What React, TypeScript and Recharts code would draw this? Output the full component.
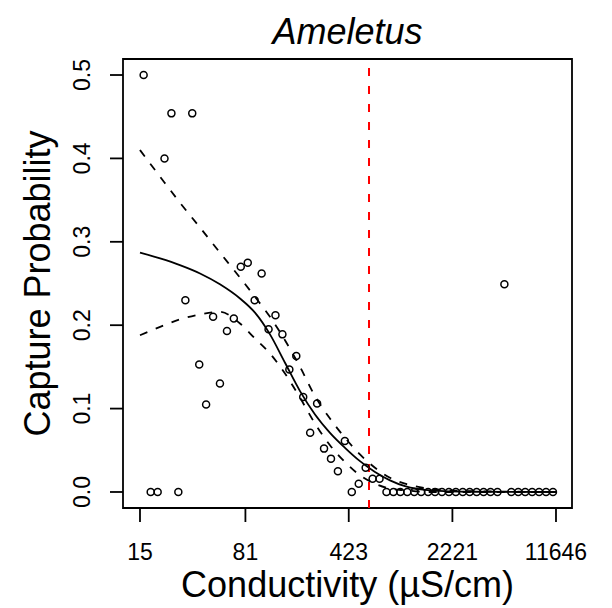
import {
  ComposedChart, Line, Scatter, XAxis, YAxis, ReferenceArea, ReferenceLine,
} from "recharts";

// observed capture probability per conductivity bin (µS/cm)
const conductivity = [
  15.9, 17.8, 19.9, 22.2, 24.8, 27.7, 31.0, 34.6, 38.7, 43.2,
  48.3, 53.9, 60.3, 67.3, 75.2, 84.1, 93.9, 105.0, 117.3, 131.0,
  146.4, 163.6, 182.8, 204.2, 228.2, 255.0, 284.9, 318.4, 355.7, 397.5,
  444.1, 496.3, 554.5, 619.6, 692.3, 773.6, 864.3, 965.7, 1079, 1206,
  1347, 1505, 1682, 1879, 2100, 2346, 2621, 2929, 3273, 3657,
  4086, 4565, 5101, 5700, 6369, 7116, 7951, 8884, 9929, 11093,
];
const captureProb = [
  0.5, 0, 0, 0.4, 0.454, 0, 0.23, 0.454, 0.153, 0.105,
  0.21, 0.13, 0.193, 0.208, 0.27, 0.275, 0.23, 0.262, 0.195, 0.212,
  0.189, 0.147, 0.163, 0.114, 0.071, 0.106, 0.052, 0.04, 0.025, 0.061,
  0, 0.01, 0.029, 0.016, 0.016, 0, 0, 0, 0, 0,
  0, 0, 0, 0, 0, 0, 0, 0, 0, 0,
  0, 0, 0.249, 0, 0, 0, 0, 0, 0, 0,
];

// fitted curve and its confidence band
const curveConductivity = [15, 20.7, 28.4, 39.2, 53.9, 74.3, 94.4, 120, 152.6, 194, 246.6, 313.4, 398.4, 506.3, 643.8, 818.3, 1040, 1551, 2943, 11646];
const fitProb = [0.287, 0.28, 0.272, 0.262, 0.249, 0.232, 0.215, 0.189, 0.155, 0.121, 0.093, 0.071, 0.053, 0.037, 0.024, 0.014, 0.007, 0.002, 0.0003, 0];
const lowerProb = [0.188, 0.198, 0.207, 0.213, 0.216, 0.202, 0.184, 0.166, 0.142, 0.113, 0.082, 0.056, 0.036, 0.02, 0.01, 0.004, 0.002, 0, 0, 0];
const upperProb = [0.41, 0.378, 0.347, 0.317, 0.287, 0.257, 0.234, 0.21, 0.182, 0.15, 0.115, 0.088, 0.065, 0.045, 0.029, 0.017, 0.01, 0.004, 0.001, 0];

const threshold = 585;
const xTicks = [15, 81, 423, 2221, 11646];
const yTicks = [0, 0.1, 0.2, 0.3, 0.4, 0.5];
const xDomain = [11.43, 15045];
const yDomain = [-0.0192, 0.5192];

const FONT = '"Liberation Sans", Arial, Helvetica, sans-serif';

const points = conductivity.map((x, i) => ({ x, y: captureProb[i] }));
const fitData = curveConductivity.map((x, i) => ({ x, y: fitProb[i] }));
const lowerData = curveConductivity.map((x, i) => ({ x, y: lowerProb[i] }));
const upperData = curveConductivity.map((x, i) => ({ x, y: upperProb[i] }));

function XTick(props: any) {
  const { x, y, payload } = props;
  return (
    <text x={x} y={y + 36} textAnchor="middle" fontSize={23} fontFamily={FONT} fill="#000">
      {payload.value}
    </text>
  );
}

function YTick(props: any) {
  const { x, y, payload } = props;
  const bx = x - 18;
  return (
    <text x={bx} y={y} transform={`rotate(-90 ${bx} ${y})`} textAnchor="middle" fontSize={23} fontFamily={FONT} fill="#000">
      {Number(payload.value).toFixed(1)}
    </text>
  );
}

const OpenCircle = (props: any) => (
  <circle cx={props.cx} cy={props.cy} r={3.5} fill="none" stroke="#000" strokeWidth={1.5} />
);

export default function App() {
  return (
    <div style={{ position: "relative", width: 612, height: 608, background: "#fff" }}>
      <style>{"body{margin:0}"}</style>
      <ComposedChart width={612} height={608} margin={{ top: 59, right: 40, bottom: 0, left: 0 }}>
        <XAxis
          dataKey="x"
          type="number"
          scale="log"
          domain={xDomain}
          allowDataOverflow
          ticks={xTicks}
          interval={0}
          height={100}
          tickSize={14}
          axisLine={false}
          tickLine={{ stroke: "#000", strokeWidth: 1.8 }}
          tick={<XTick />}
          label={{
            content: (p: any) => {
              const vb = p.viewBox;
              return (
                <text x={vb.x + vb.width / 2} y={vb.y + 89} textAnchor="middle" fontSize={36} fontFamily={FONT} fill="#000">
                  Conductivity (µS/cm)
                </text>
              );
            },
          }}
        />
        <YAxis
          dataKey="y"
          type="number"
          domain={yDomain}
          allowDataOverflow
          ticks={yTicks}
          interval={0}
          width={123}
          tickSize={13}
          axisLine={false}
          tickLine={{ stroke: "#000", strokeWidth: 1.8 }}
          tick={<YTick />}
          label={{
            content: (p: any) => {
              const vb = p.viewBox;
              const cy = vb.y + vb.height / 2;
              return (
                <text x={50} y={cy} transform={`rotate(-90 50 ${cy})`} textAnchor="middle" fontSize={36} fontFamily={FONT} fill="#000">
                  Capture Probability
                </text>
              );
            },
          }}
        />
        <Line data={upperData} dataKey="y" type="monotone" stroke="#000" strokeWidth={1.8} strokeDasharray="8 9" dot={false} activeDot={false} isAnimationActive={false} />
        <Line data={lowerData} dataKey="y" type="monotone" stroke="#000" strokeWidth={1.8} strokeDasharray="8 9" dot={false} activeDot={false} isAnimationActive={false} />
        <Line data={fitData} dataKey="y" type="monotone" stroke="#000" strokeWidth={1.8} dot={false} activeDot={false} isAnimationActive={false} />
        <Scatter data={points} dataKey="y" shape={OpenCircle} isAnimationActive={false} />
        <ReferenceLine x={threshold} stroke="#ff0000" strokeWidth={2} strokeDasharray="8 10" />
        <ReferenceArea
          x1={xDomain[0]}
          x2={xDomain[1]}
          y1={yDomain[0]}
          y2={yDomain[1]}
          ifOverflow="visible"
          fill="none"
          fillOpacity={0}
          stroke="#000"
          strokeWidth={1.8}
        />
      </ComposedChart>
      <svg width={612} height={60} style={{ position: "absolute", left: 0, top: 0 }}>
        <text x={347.5} y={44} textAnchor="middle" fontSize={36} fontStyle="italic" fontFamily={FONT} fill="#000">
          Ameletus
        </text>
      </svg>
    </div>
  );
}
